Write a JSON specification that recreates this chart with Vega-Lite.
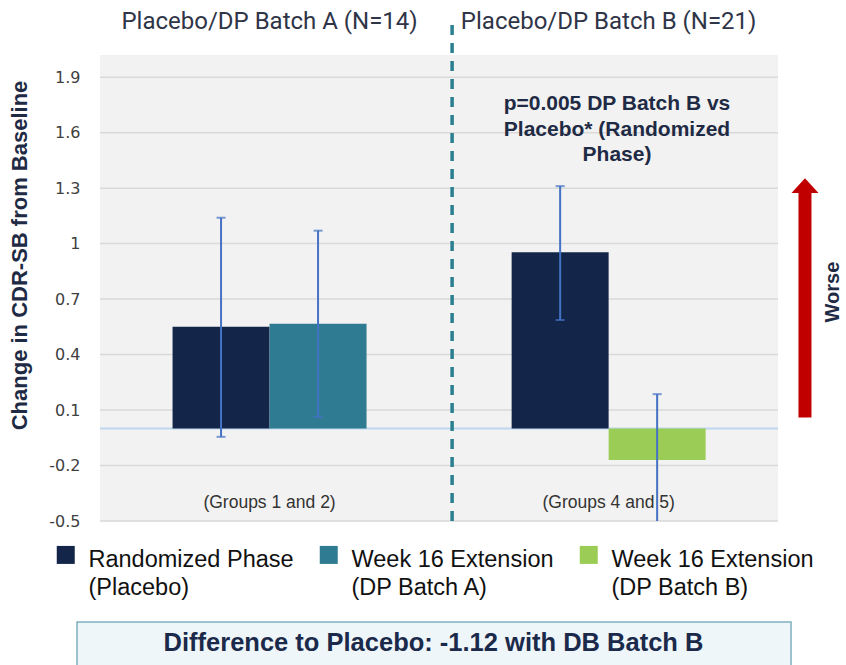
{
  "$schema": "https://vega.github.io/schema/vega-lite/v6.json",
  "width": 746,
  "height": 466,
  "autosize": {"type": "none"},
  "padding": {"left": 100, "top": 55, "right": 0, "bottom": 144},
  "background": "white",
  "config": {
    "font": "Liberation Sans",
    "view": {"stroke": null},
    "style": {"guide-label": {"lineHeight": 28.5}}
  },
  "data": {"values": [{}]},
  "layer": [
    {
      "layer": [
        {
          "mark": {"type": "rect", "color": "#f2f2f2"},
          "encoding": {
            "x": {"datum": 0, "type": "quantitative", "scale": {"domain": [0, 1]}, "axis": null},
            "x2": {"datum": 0.9088},
            "y": {
              "datum": -0.5,
              "type": "quantitative",
              "scale": {"domain": [-0.5, 2.02], "nice": false, "zero": false},
              "axis": {
                "title": "Change in CDR-SB from Baseline",
                "values": [-0.5, -0.2, 0.1, 0.4, 0.7, 1, 1.3, 1.6, 1.9],
                "labelExpr": "'' + datum.value",
                "grid": false,
                "domain": false,
                "ticks": false,
                "tickSize": 0,
                "labelPadding": 20,
                "labelFont": "DejaVu Sans",
                "labelFontSize": 16,
                "labelColor": "#404040",
                "titleFont": "Liberation Sans",
                "titleFontSize": 22,
                "titleFontWeight": "bold",
                "titleColor": "#1f2a44",
                "titlePadding": 17,
                "titleY": 200,
                "titleAlign": "center"
              }
            },
            "y2": {"datum": 2.02}
          }
        },
        {
          "data": {"values": [{"v": -0.5}, {"v": -0.2}, {"v": 0.1}, {"v": 0.4}, {"v": 0.7}, {"v": 1}, {"v": 1.3}, {"v": 1.6}, {"v": 1.9}]},
          "mark": {"type": "rule", "color": "#d9d9d9", "strokeWidth": 1.5},
          "encoding": {
            "x": {"datum": 0, "type": "quantitative", "scale": {"domain": [0, 1]}, "axis": null},
            "x2": {"datum": 0.9088},
            "y": {"field": "v", "type": "quantitative", "title": "Change in CDR-SB from Baseline"}
          }
        },
        {
          "mark": {"type": "rule", "color": "#bdd7ee", "strokeWidth": 2},
          "encoding": {
            "x": {"datum": 0, "type": "quantitative", "scale": {"domain": [0, 1]}, "axis": null},
            "x2": {"datum": 0.9088},
            "y": {"datum": 0, "type": "quantitative"}
          }
        },
        {
          "mark": {"type": "rule", "color": "#2a8090", "strokeWidth": 3.5, "strokeDash": [10, 8]},
          "encoding": {
            "x": {"datum": 0.472, "type": "quantitative", "scale": {"domain": [0, 1]}, "axis": null},
            "y": {"datum": -0.5, "type": "quantitative"},
            "y2": {"datum": 2.203}
          }
        },
        {
          "mark": {"type": "rule", "color": "#c00000", "strokeWidth": 13, "strokeCap": "butt"},
          "encoding": {
            "x": {"datum": 0.945, "type": "quantitative", "scale": {"domain": [0, 1]}, "axis": null},
            "y": {"datum": 0.06, "type": "quantitative"},
            "y2": {"datum": 1.29}
          }
        },
        {
          "mark": {"type": "point", "shape": "M-1,0.55L0,-0.55L1,0.55Z", "size": 729, "filled": true, "color": "#c00000", "opacity": 1},
          "encoding": {
            "x": {"datum": 0.945, "type": "quantitative", "scale": {"domain": [0, 1]}, "axis": null},
            "y": {"datum": 1.314, "type": "quantitative"}
          }
        },
        {
          "mark": {"type": "text", "angle": 270, "font": "Liberation Sans", "fontWeight": "bold", "fontSize": 20, "color": "#1f2a44", "align": "center", "baseline": "middle"},
          "encoding": {
            "x": {"datum": 0.983, "type": "quantitative", "scale": {"domain": [0, 1]}, "axis": null},
            "y": {"datum": 0.738, "type": "quantitative"},
            "text": {"value": "Worse"}
          }
        },
        {
          "mark": {"type": "text", "font": "Liberation Sans", "fontWeight": "bold", "fontSize": 21, "lineHeight": 25.5, "color": "#1f2a44", "align": "center", "baseline": "middle"},
          "encoding": {
            "x": {"datum": 0.693, "type": "quantitative", "scale": {"domain": [0, 1]}, "axis": null},
            "y": {"datum": 1.754, "type": "quantitative"},
            "text": {"value": ["p=0.005 DP Batch B vs", "Placebo* (Randomized", "Phase)"]}
          }
        },
        {
          "mark": {"type": "rect", "fill": "#eef6f9", "stroke": "#7fb0bf", "strokeWidth": 1.5},
          "encoding": {
            "x": {"datum": -0.0308, "type": "quantitative", "scale": {"domain": [0, 1]}, "axis": null},
            "x2": {"datum": 0.9263},
            "y": {"datum": -1.046, "type": "quantitative"},
            "y2": {"datum": -1.45}
          }
        },
        {
          "mark": {"type": "text", "font": "Liberation Sans", "fontWeight": "bold", "fontSize": 25.5, "color": "#1b2a4a", "align": "center", "baseline": "middle"},
          "encoding": {
            "x": {"datum": 0.447, "type": "quantitative", "scale": {"domain": [0, 1]}, "axis": null},
            "y": {"datum": -1.159, "type": "quantitative"},
            "text": {"value": "Difference to Placebo: -1.12 with DB Batch B"}
          }
        }
      ]
    },
    {
      "data": {
        "values": [
          {"group": "Placebo/DP Batch A (N=14)", "slot": "L", "series": "Randomized Phase|(Placebo)", "mean": 0.55, "lo": -0.045, "hi": 1.14},
          {"group": "Placebo/DP Batch A (N=14)", "slot": "R", "series": "Week 16 Extension|(DP Batch A)", "mean": 0.566, "lo": 0.063, "hi": 1.07},
          {"group": "Placebo/DP Batch B (N=21)", "slot": "L", "series": "Randomized Phase|(Placebo)", "mean": 0.954, "lo": 0.587, "hi": 1.311},
          {"group": "Placebo/DP Batch B (N=21)", "slot": "R", "series": "Week 16 Extension|(DP Batch B)", "mean": -0.17, "lo": -0.526, "hi": 0.186}
        ]
      },
      "layer": [
        {
          "mark": {"type": "bar"},
          "encoding": {
            "x": {
              "field": "group",
              "type": "nominal",
              "scale": {"paddingInner": 0, "paddingOuter": 0.1, "align": 0},
              "axis": {
                "orient": "top",
                "title": null,
                "domain": false,
                "ticks": false,
                "tickSize": 0,
                "labelPadding": 22,
                "labelAngle": 0,
                "labelFont": "Roboto",
                "labelFontSize": 24,
                "labelColor": "#2f3547",
                "labelLimit": 500
              }
            },
            "xOffset": {"field": "slot", "type": "nominal", "scale": {"paddingInner": 0, "paddingOuter": 0.748}},
            "y": {"field": "mean", "type": "quantitative", "title": "Change in CDR-SB from Baseline"},
            "color": {
              "field": "series",
              "type": "nominal",
              "scale": {
                "domain": ["Randomized Phase|(Placebo)", "Week 16 Extension|(DP Batch A)", "Week 16 Extension|(DP Batch B)"],
                "range": ["#13264a", "#2f7c92", "#9bcc55"]
              },
              "legend": {
                "orient": "none",
                "legendX": -46,
                "legendY": 493,
                "direction": "horizontal",
                "columns": 3,
                "title": null,
                "symbolType": "M-1,-1.55L1,-1.55L1,0.45L-1,0.45Z",
                "symbolSize": 324,
                "symbolStrokeWidth": 0,
                "labelFont": "Liberation Sans",
                "labelFontSize": 23.5,
                "labelColor": "#111111",
                "labelOffset": 11,
                "columnPadding": 23,
                "labelLimit": 400,
                "labelBaseline": "middle",
                "labelExpr": "split(datum.label, '|')"
              }
            }
          }
        },
        {
          "mark": {"type": "rule", "color": "#4472c4", "strokeWidth": 2, "clip": true},
          "encoding": {
            "x": {"field": "group", "type": "nominal"},
            "xOffset": {"field": "slot", "type": "nominal"},
            "y": {"field": "lo", "type": "quantitative", "title": "Change in CDR-SB from Baseline"},
            "y2": {"field": "hi"}
          }
        },
        {
          "mark": {"type": "tick", "color": "#4472c4", "size": 9, "thickness": 2, "clip": true},
          "encoding": {
            "x": {"field": "group", "type": "nominal"},
            "xOffset": {"field": "slot", "type": "nominal"},
            "y": {"field": "hi", "type": "quantitative", "title": "Change in CDR-SB from Baseline"}
          }
        },
        {
          "mark": {"type": "tick", "color": "#4472c4", "size": 9, "thickness": 2, "clip": true},
          "encoding": {
            "x": {"field": "group", "type": "nominal"},
            "xOffset": {"field": "slot", "type": "nominal"},
            "y": {"field": "lo", "type": "quantitative", "title": "Change in CDR-SB from Baseline"}
          }
        },
        {
          "data": {"values": [{"group": "Placebo/DP Batch A (N=14)", "note": "(Groups 1 and 2)"}, {"group": "Placebo/DP Batch B (N=21)", "note": "(Groups 4 and 5)"}]},
          "mark": {"type": "text", "font": "Liberation Sans", "fontSize": 17.5, "color": "#333333", "baseline": "middle", "align": "center"},
          "encoding": {
            "x": {"field": "group", "type": "nominal"},
            "y": {"datum": -0.4, "type": "quantitative"},
            "text": {"field": "note"}
          }
        }
      ]
    }
  ],
  "resolve": {"scale": {"x": "independent"}}
}
